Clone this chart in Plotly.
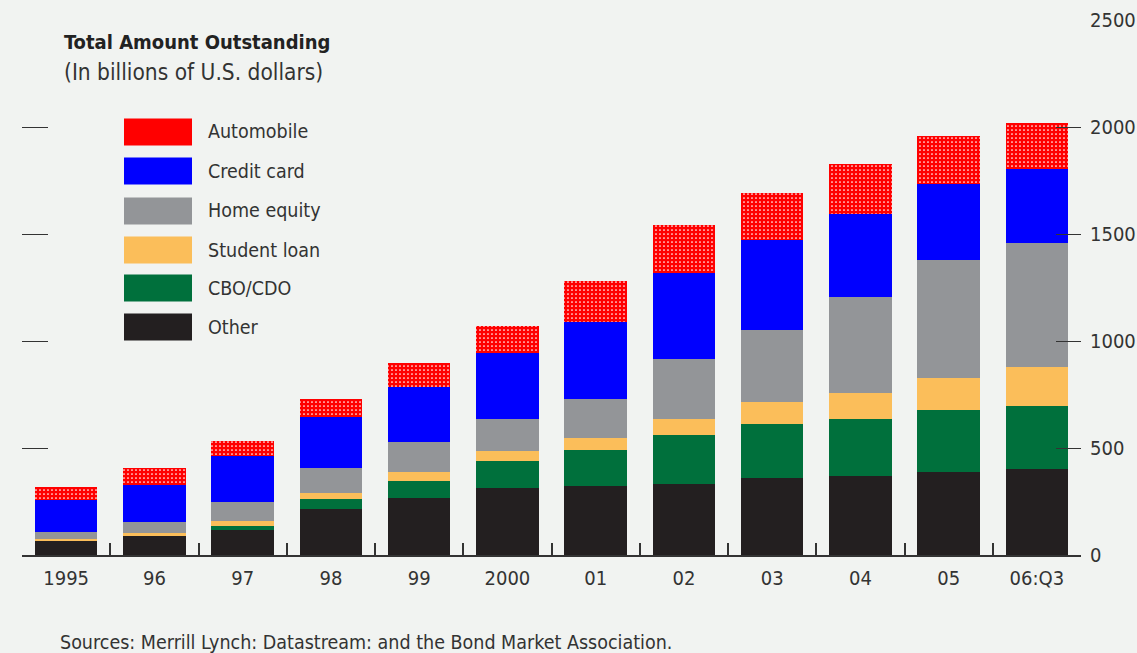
import plotly.graph_objects as go

categories = ["1995", "96", "97", "98", "99", "2000", "01", "02", "03", "04", "05", "06:Q3"]
other = [69, 90, 118, 215, 265, 315, 322, 332, 360, 371, 389, 400]
cbo_cdo = [0, 0, 19, 45, 82, 123, 167, 230, 253, 265, 287, 297]
student_loan = [7, 13, 22, 28, 41, 46, 58, 74, 102, 119, 152, 180]
home_equity = [31, 50, 90, 117, 140, 152, 184, 278, 338, 450, 549, 579]
credit_card = [151, 176, 212, 241, 259, 306, 359, 405, 421, 389, 356, 348]
automobile = [58, 76, 73, 84, 110, 130, 189, 223, 217, 232, 224, 214]

y_ticks = [0, 500, 1000, 1500, 2000, 2500]

FONT = "DejaVu Sans Condensed, Liberation Sans Narrow, Arial Narrow, sans-serif"
TXT = "#333333"
BG = "#f1f3f1"

series = [
    ("Other", other, "#231f20"),
    ("CBO/CDO", cbo_cdo, "#00703c"),
    ("Student loan", student_loan, "#fbbe5a"),
    ("Home equity", home_equity, "#939598"),
    ("Credit card", credit_card, "#0000ff"),
    ("Automobile", automobile, "#ff0000"),
]

fig = go.Figure()
for name, vals, col in series:
    marker = dict(color=col, line=dict(width=0))
    if name == "Automobile":
        marker["pattern"] = dict(shape=".", fgcolor="#ffffff", bgcolor=col,
                                 size=4, solidity=0.15, fillmode="replace")
    fig.add_trace(go.Bar(x=categories, y=vals, name=name, marker=marker,
                         showlegend=False))

# invisible trace for left-side tick axis
fig.add_trace(go.Scatter(x=[], y=[], yaxis="y2", showlegend=False, hoverinfo="skip"))

fig.update_layout(
    width=1137, height=653,
    margin=dict(l=22, r=56, t=20, b=98, autoexpand=False),
    barmode="stack", bargap=0.29,
    paper_bgcolor=BG, plot_bgcolor=BG,
    font=dict(family=FONT, color=TXT, size=19.5),
    xaxis=dict(type="category", showline=True, linecolor=TXT, linewidth=1.5,
               ticks="inside", tickson="boundaries", ticklen=12, tickcolor=TXT,
               tickwidth=1.5, showgrid=False, automargin=False, ticklabelstandoff=4,
               tickfont=dict(size=20, family=FONT, color=TXT)),
    yaxis=dict(side="right", range=[0, 2500], tickvals=y_ticks,
               ticktext=[str(v) for v in y_ticks], automargin=False,
               ticks="inside", ticklen=25, tickcolor=TXT, tickwidth=1.2,
               showgrid=False, zeroline=False, showline=False,
               tickfont=dict(size=20, family=FONT, color=TXT), ticklabelstandoff=8),
    yaxis2=dict(overlaying="y", side="left", range=[0, 2500], automargin=False,
                tickvals=[500, 1000, 1500, 2000, 2500], ticks="inside", ticklen=26,
                tickcolor=TXT, tickwidth=1.2, showticklabels=False, showgrid=False,
                zeroline=False, showline=False),
)

W, H = 1137, 653
L, R, T, B = 22, 56, 20, 98
pw, ph = W - L - R, H - T - B


def px(x):
    return (x - L) / pw


def py(y):
    return (H - y - B) / ph


# Title
fig.add_annotation(x=px(62), y=py(42), xref="paper", yref="paper", text="<b>Total Amount Outstanding</b>",
                   showarrow=False, xanchor="left", yanchor="middle",
                   font=dict(size=20, family=FONT, color="#222222"))
fig.add_annotation(x=px(62), y=py(72), xref="paper", yref="paper", text="(In billions of U.S. dollars)",
                   showarrow=False, xanchor="left", yanchor="middle",
                   font=dict(size=22.5, family=FONT, color=TXT))
fig.add_annotation(x=px(58), y=py(642), xref="paper", yref="paper",
                   text="Sources: Merrill Lynch: Datastream: and the Bond Market Association.",
                   showarrow=False, xanchor="left", yanchor="middle",
                   font=dict(size=19.5, family=FONT, color=TXT))

# custom legend
legend_items = [("Automobile", "#ff0000", 132), ("Credit card", "#0000ff", 171),
                ("Home equity", "#939598", 211), ("Student loan", "#fbbe5a", 250),
                ("CBO/CDO", "#00703c", 288), ("Other", "#231f20", 327)]
shapes = []
for label, col, yc in legend_items:
    shapes.append(dict(type="rect", xref="paper", yref="paper",
                       x0=px(124), x1=px(192), y0=py(yc - 13.5), y1=py(yc + 13.5),
                       fillcolor=col, line=dict(width=0), layer="above"))
    fig.add_annotation(x=px(206), y=py(yc), xref="paper", yref="paper", text=label,
                       showarrow=False, xanchor="left", yanchor="middle",
                       font=dict(size=19.5, family=FONT, color=TXT))
fig.update_layout(shapes=shapes)

fig.write_html("out.html")
